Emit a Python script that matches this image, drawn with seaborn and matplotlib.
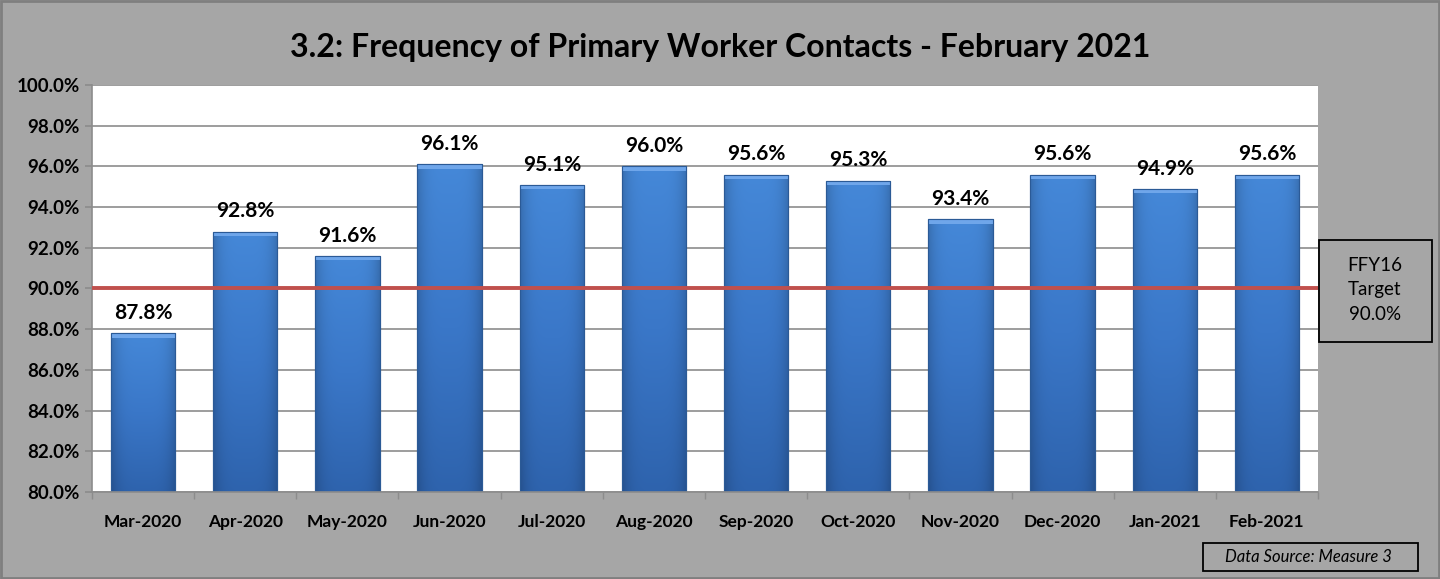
import matplotlib
matplotlib.use("Agg")
import matplotlib.pyplot as plt
import seaborn as sns
import pandas as pd
import numpy as np
from matplotlib.patches import Rectangle
from matplotlib.colors import LinearSegmentedColormap

months = ["Mar-2020", "Apr-2020", "May-2020", "Jun-2020", "Jul-2020", "Aug-2020",
          "Sep-2020", "Oct-2020", "Nov-2020", "Dec-2020", "Jan-2021", "Feb-2021"]
values = [87.8, 92.8, 91.6, 96.1, 95.1, 96.0, 95.6, 95.3, 93.4, 95.6, 94.9, 95.6]
target = 90.0
yticks = [80, 82, 84, 86, 88, 90, 92, 94, 96, 98, 100]
title = "3.2: Frequency of Primary Worker Contacts - February 2021"
target_text = "FFY16\nTarget\n90.0%"
source_text = "Data Source: Measure 3"

sns.set_theme(style="white")
plt.rcParams['font.family'] = ['Lato', 'DejaVu Sans']

bg = "#A6A6A6"
fig = plt.figure(figsize=(14.4, 5.79), dpi=100, facecolor=bg)
ax = fig.add_axes([92/1440, 1-492/579, (1318-92)/1440, (492-85)/579])
ax.set_facecolor("white")

df = pd.DataFrame({"month": months, "value": values})
sns.barplot(data=df, x="month", y="value", ax=ax, color="#3D7DD0",
            width=0.63, edgecolor="#2B5A96", linewidth=0.8, saturation=1)

ax.set_ylim(80, 100)
ax.set_xlim(-0.5, len(months) - 0.5)

# gradient fill clipped to each bar (Excel-like shading)
cmap_v = LinearSegmentedColormap.from_list("v", ["#2E63AD", "#3A77C8", "#4588D8"])
grad = np.linspace(0, 1, 256).reshape(-1, 1)
horiz = 1 - 0.18 * (np.abs(np.linspace(-1, 1, 64)) ** 4)
for p in list(ax.patches):
    x0, w, h = p.get_x(), p.get_width(), p.get_height()
    rgb = cmap_v(grad)[:, :, :3] * horiz.reshape(1, -1, 1)
    im = ax.imshow(rgb, extent=[x0, x0 + w, 80, h], origin="lower",
                   aspect="auto", zorder=p.get_zorder() + 0.05, interpolation="bilinear")
    im.set_clip_path(p)
    ax.add_patch(Rectangle((x0, h - 0.22), w, 0.22, facecolor="#6FA6EA",
                           edgecolor="none", zorder=p.get_zorder() + 0.1))
    ax.add_patch(Rectangle((x0, 80), w, h - 80, facecolor="none",
                           edgecolor="#2B5A96", linewidth=0.8, zorder=p.get_zorder() + 0.2))
ax.set_xlim(-0.5, len(months) - 0.5)
ax.set_ylim(80, 100)

ax.set_yticks(yticks)
ax.set_yticklabels([f"{t:.1f}%" for t in yticks], fontsize=13.5, fontweight="bold")
ax.set_xticks(range(len(months)))
ax.set_xticklabels(months, fontsize=12.5, fontweight="bold")
ax.set_xlabel("")
ax.set_ylabel("")
ax.yaxis.grid(True, color="#8C8C8C", linewidth=1.2)
ax.set_axisbelow(True)
for s in ["top", "right"]:
    ax.spines[s].set_visible(False)
ax.spines["left"].set_color("#8C8C8C")
ax.spines["bottom"].set_color("#8C8C8C")
ax.spines["left"].set_linewidth(1.2)
ax.spines["bottom"].set_linewidth(1.2)
ax.tick_params(axis="y", which="both", left=True, length=5, color="#8C8C8C", pad=4, colors="black")
ax.tick_params(axis="x", which="major", bottom=False, pad=10, colors="black")
ax.set_xticks(np.arange(-0.5, len(months), 1), minor=True)
ax.tick_params(axis="x", which="minor", bottom=True, length=5, color="#8C8C8C")

for i, v in enumerate(values):
    ax.text(i, v + 0.5, f"{v:.1f}%", ha="center", va="bottom", fontsize=15,
            fontweight="bold", color="black", zorder=5)

ax.axhline(target, color="#C0504D", linewidth=2.8, zorder=4)

fig.text(0.5, 1 - 47/579, title, ha="center", va="center", fontsize=23,
         fontweight="bold", color="black")

# target box
fig.patches.append(Rectangle((1319/1440, 1-342/579), 113/1440, 102/579,
                             transform=fig.transFigure, facecolor=bg,
                             edgecolor="black", linewidth=1.3))
fig.text(1375/1440, 1-290/579, target_text, ha="center", va="center",
         fontsize=13.5, color="black", linespacing=1.55)

# source box
fig.patches.append(Rectangle((1203/1440, 1-571/579), 215/1440, 28/579,
                             transform=fig.transFigure, facecolor=bg,
                             edgecolor="black", linewidth=1.3))
fig.text(1308/1440, 1-557/579, source_text, ha="center", va="center",
         fontsize=12, style="italic", color="black")

# outer border
fig.patches.append(Rectangle((1/1440, 1/579), 1438/1440, 577/579,
                             transform=fig.transFigure, facecolor="none",
                             edgecolor="#7F7F7F", linewidth=2))

fig.savefig("out.png", dpi=100, facecolor=bg)
